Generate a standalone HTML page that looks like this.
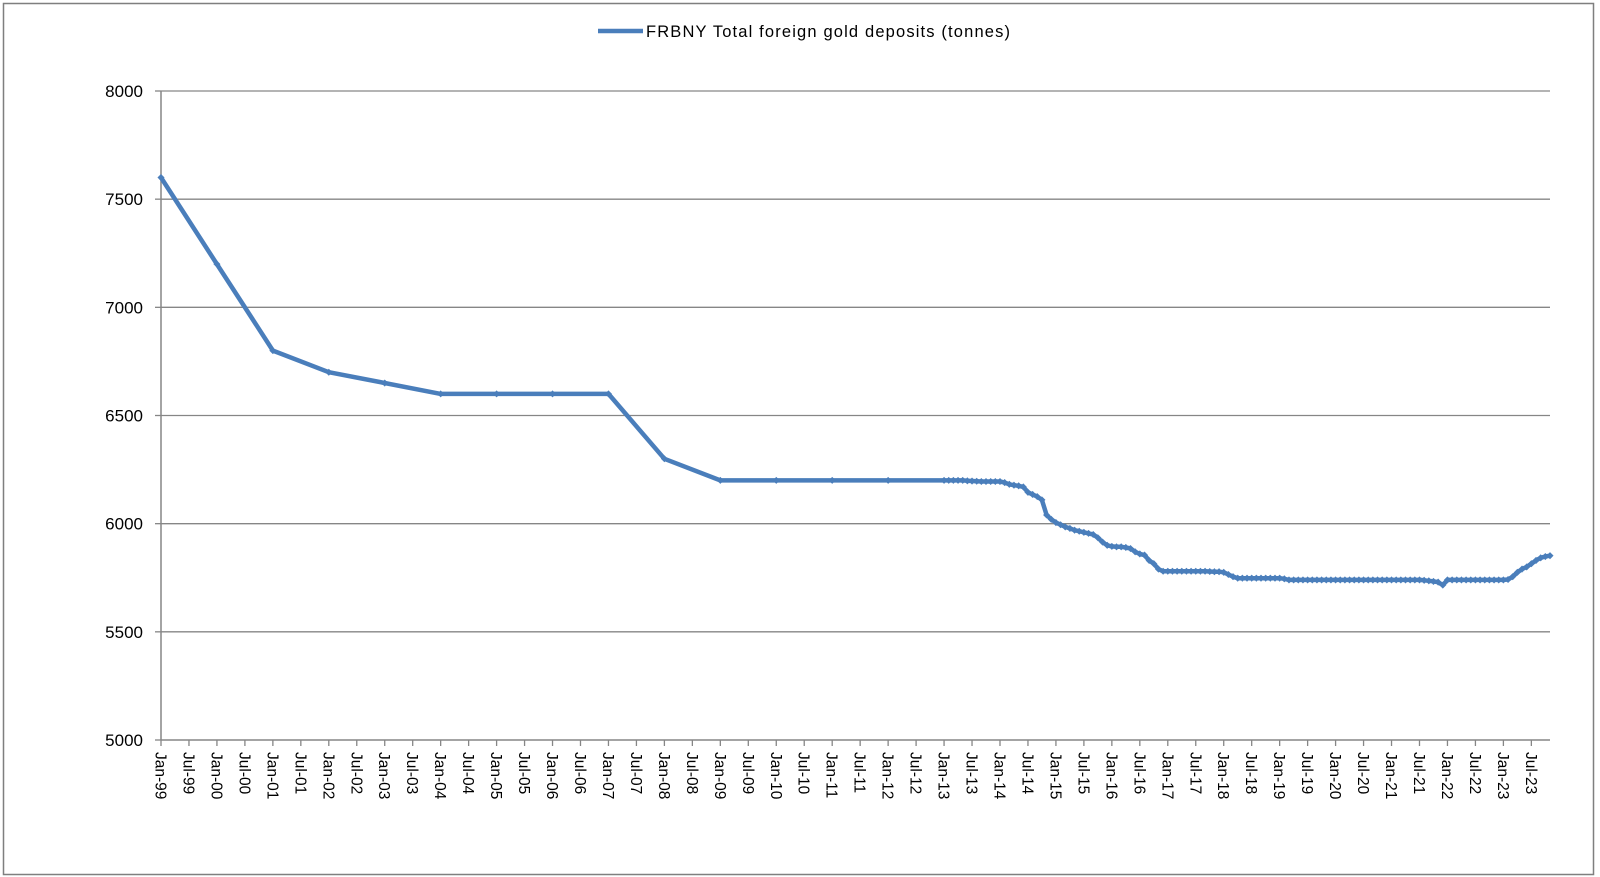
<!DOCTYPE html>
<html><head><meta charset="utf-8"><style>
html,body{margin:0;padding:0;background:#fff}
svg{display:block;font-family:"Liberation Sans",sans-serif}
</style></head><body>
<svg id="chart" width="1600" height="877" viewBox="0 0 1600 877">
<rect x="3.5" y="3.5" width="1590" height="871" fill="#fff" stroke="#7f7f7f" stroke-width="1.5"/>
<g>
<line x1="598" y1="31" x2="643" y2="31" stroke="#4a7ebb" stroke-width="4.5"/>
<text x="646" y="37" font-size="16.5" fill="#000" textLength="364">FRBNY Total foreign gold deposits (tonnes)</text>
</g>
<g id="grid"></g><g id="axes"></g><g id="series"></g>
</svg>
<script>
const yearlyDates=["1999-01","2000-01","2001-01","2002-01","2003-01","2004-01","2005-01","2006-01","2007-01","2008-01","2009-01","2010-01","2011-01","2012-01"];
const yearlyValues=[7600,7200,6800,6700,6650,6600,6600,6600,6600,6300,6200,6200,6200,6200];
const monthlyStart="2013-01";
const monthlyValues=[
6200,6200,6200,6200,6200,6198,6197,6196,6195,6195,6195,6195,
6195,6190,6182,6178,6175,6170,6145,6135,6125,6110,6040,6020,
6005,5995,5985,5978,5970,5965,5960,5955,5950,5935,5915,5900,
5895,5893,5893,5890,5885,5870,5860,5855,5830,5815,5790,5780,
5780,5780,5780,5780,5780,5780,5780,5780,5780,5779,5778,5778,
5775,5765,5755,5748,5748,5748,5748,5748,5748,5748,5748,5748,
5748,5745,5740,5740,5740,5740,5740,5740,5740,5740,5740,5740,
5740,5740,5740,5740,5740,5740,5740,5740,5740,5740,5740,5740,
5740,5740,5740,5740,5740,5740,5740,5738,5736,5733,5730,5716,
5740,5740,5740,5740,5740,5740,5740,5740,5740,5740,5740,5740,
5740,5742,5755,5775,5790,5800,5815,5830,5842,5848,5852];
const yTicks=[5000,5500,6000,6500,7000,7500,8000];
const xTickLabels=["Jan-99","Jul-99","Jan-00","Jul-00","Jan-01","Jul-01","Jan-02","Jul-02","Jan-03","Jul-03","Jan-04","Jul-04","Jan-05","Jul-05","Jan-06","Jul-06","Jan-07","Jul-07","Jan-08","Jul-08","Jan-09","Jul-09","Jan-10","Jul-10","Jan-11","Jul-11","Jan-12","Jul-12","Jan-13","Jul-13","Jan-14","Jul-14","Jan-15","Jul-15","Jan-16","Jul-16","Jan-17","Jul-17","Jan-18","Jul-18","Jan-19","Jul-19","Jan-20","Jul-20","Jan-21","Jul-21","Jan-22","Jul-22","Jan-23","Jul-23"];

const NS="http://www.w3.org/2000/svg";
const X0=161,X1=1550,Y0=740,Y1=91,MONTHS_END=298;
function mIdx(s){const [y,m]=s.split("-").map(Number);return (y-1999)*12+(m-1);}
function xs(m){return X0+(X1-X0)*m/MONTHS_END;}
function ys(v){return Y0-(v-5000)/3000*(Y0-Y1);}
function mk(tag,attrs,parent){const e=document.createElementNS(NS,tag);for(const k in attrs)e.setAttribute(k,attrs[k]);parent.appendChild(e);return e;}
const grid=document.getElementById("grid"),axes=document.getElementById("axes"),series=document.getElementById("series");

yTicks.forEach(v=>{
  if(v>5000){const g=mk("line",{x1:X0,x2:X1,y1:ys(v),y2:ys(v),stroke:"#868686","stroke-width":1.3},grid);
  
  }
  const t=mk("line",{x1:X0-6,x2:X0,y1:ys(v),y2:ys(v),stroke:"#868686","stroke-width":1.3},axes);
  
  
  const l=mk("text",{x:X0-18,y:ys(v)+6,"text-anchor":"end","font-size":"17",fill:"#000"},axes);
  
  
  l.textContent=v;
});
const ya=mk("line",{x1:X0,x2:X0,y1:Y1,y2:Y0,stroke:"#868686","stroke-width":1.5},axes);


const xa=mk("line",{x1:X0,x2:X1,y1:Y0,y2:Y0,stroke:"#868686","stroke-width":1.5},axes);


xTickLabels.forEach((lab,i)=>{
  const x=xs(i*6);
  const t=mk("line",{x1:x,x2:x,y1:Y0,y2:Y0+6,stroke:"#868686","stroke-width":1.3},axes);
  
  
  const l=mk("text",{x:0,y:0,"font-size":"15.5",fill:"#000",transform:`translate(${x-5.5},752) rotate(90)`},axes);
  
  
  l.textContent=lab;
});
const pts=[];
yearlyDates.forEach((d,i)=>pts.push([xs(mIdx(d)),ys(yearlyValues[i])]));
const ms=mIdx(monthlyStart);
monthlyValues.forEach((v,i)=>pts.push([xs(ms+i),ys(v)]));
const line=mk("polyline",{points:pts.map(p=>p[0].toFixed(1)+","+p[1].toFixed(1)).join(" "),fill:"none",stroke:"#4a7ebb","stroke-width":4.5,"stroke-linejoin":"round","stroke-linecap":"round"},series);


pts.forEach(p=>{
  const m=mk("rect",{x:p[0]-2.5,y:p[1]-2.5,width:5,height:5,fill:"#4a7ebb",transform:`rotate(45 ${p[0]} ${p[1]})`},series);
  
  
});
</script>
</body></html>
